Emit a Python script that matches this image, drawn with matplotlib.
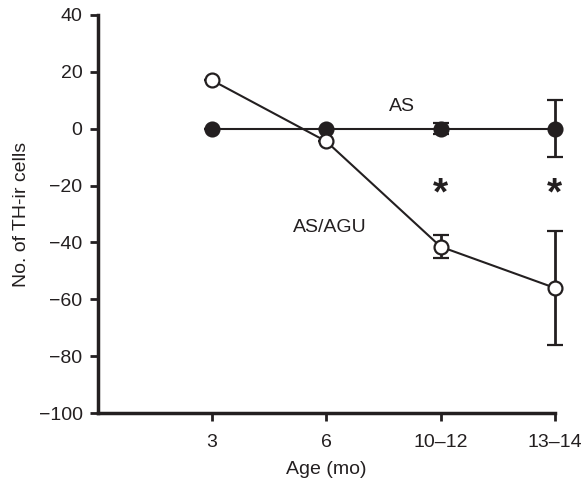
import matplotlib.pyplot as plt
import numpy as np

# data
ages = ['3', '6', '10\u201312', '13\u201314']
as_mean = [0, 0, 0, 0]
as_err = [0, 0, 2, 10]
agu_mean = [17, -4.5, -41.5, -56]
agu_err = [0, 0, 4, 20]
signif = [False, False, True, True]

ink = '#231f20'
plt.rcParams['font.family'] = ['Liberation Sans', 'DejaVu Sans']

fig = plt.figure(figsize=(5.86, 4.82), dpi=100)
ax = fig.add_axes([0.167, 0.143, 0.78, 0.826])

x = np.arange(1, len(ages) + 1)

for mean, err, face, z in [(as_mean, as_err, ink, 3), (agu_mean, agu_err, 'white', 4)]:
    lines = ax.errorbar(x, mean, yerr=err, color=ink, lw=1.5, marker='o', ms=10,
                        mfc=face, mec=ink, mew=1.6, capsize=6, capthick=2,
                        elinewidth=2, zorder=z)
    for art in lines.get_children():
        art.set_clip_on(False)

# significance marks
for xi, s in zip(x, signif):
    if s:
        ax.text(xi, -23, '*', ha='center', va='center', fontsize=28,
                fontweight='bold', color=ink)

ax.text(2.66, 7.7, 'AS', ha='center', va='center', fontsize=14, color=ink)
ax.text(2.03, -34.6, 'AS/AGU', ha='center', va='center', fontsize=14, color=ink)

ax.set_xlim(0, 4)
ax.set_ylim(-100, 40)
ax.set_xticks(x)
ax.set_xticklabels(ages)
ax.set_yticks(np.arange(-100, 41, 20))
ax.set_yticklabels([str(v).replace('-', '\u2212') for v in range(-100, 41, 20)])

for side in ['top', 'right']:
    ax.spines[side].set_visible(False)
for side in ['left', 'bottom']:
    ax.spines[side].set_linewidth(2.5)
    ax.spines[side].set_color(ink)
ax.tick_params(direction='out', length=6, width=2, colors=ink, labelsize=14)
ax.tick_params(axis='x', pad=9)
ax.tick_params(axis='y', pad=5)

ax.set_xlabel('Age (mo)', fontsize=14, color=ink, labelpad=7)
ax.set_ylabel('No. of TH-ir cells', fontsize=14, color=ink, labelpad=6)

fig.savefig('out.png', dpi=100)
